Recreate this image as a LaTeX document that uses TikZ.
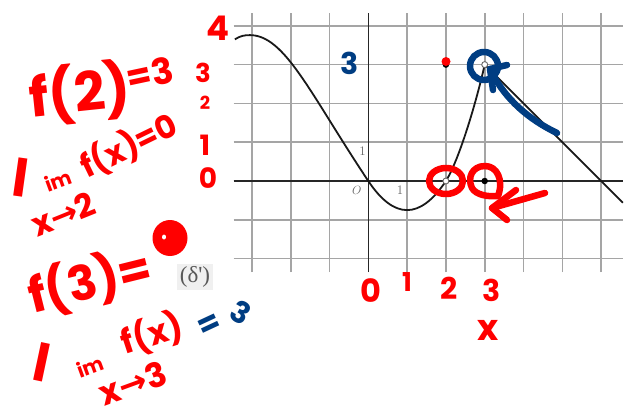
\documentclass[tikz,border=0pt]{standalone}
\usepackage{fontspec}
\newfontfamily\hand{Poppins}
\newfontfamily\handarrow{DejaVu Sans}
\newfontfamily\lserif{Liberation Serif}
\usetikzlibrary{arrows.meta}
\definecolor{hred}{RGB}{255,0,0}
\definecolor{hblue}{RGB}{0,61,130}
\definecolor{gridgray}{RGB}{165,165,165}
\tikzset{
  hw/.style={text=hred, inner sep=0pt},
  hwb/.style={text=hblue, inner sep=0pt},
  pen/.style={draw=hred, line width=6.5pt, line cap=round, line join=round},
  bpen/.style={draw=hblue, line width=6.5pt, line cap=round, line join=round},
  gridline/.style={draw=gridgray, line width=1.6pt},
  axisline/.style={draw=black!85, line width=1.5pt},
  curveline/.style={draw=black!90, line width=1.8pt},
  lbl/.style={text=black!60, inner sep=0pt, font=\fontsize{13}{13}\selectfont},
  opendot/.style={circle, draw=black!60, fill=white, line width=0.9pt, minimum size=6pt, inner sep=0pt},
  fdot/.style={circle, fill=black, minimum size=6.5pt, inner sep=0pt},
}
\newcommand{\hf}[1]{\fontsize{#1}{#1}\selectfont\hand\bfseries}
\begin{document}
\begin{tikzpicture}[x=1pt, y=-1pt]
\useasboundingbox (0,0) rectangle (626,416);
\fill[white] (0,0) rectangle (626,416);

% ---- graph ----
\begin{scope}[shift={(368.3,181)}, x=38.8pt, y=38.8pt]
  \foreach \i in {-3,...,6} \draw[gridline] (\i,-2.35) -- (\i,4.33);
  \foreach \j in {-2,...,4} \draw[gridline] (-3.47,\j) -- (6.56,\j);
  \draw[axisline] (-3.47,0) -- (6.56,0);
  \draw[axisline] (0,-2.35) -- (0,4.33);
  \draw[curveline] (-3.44,3.65) .. controls (-3.3,3.74) and (-3.2,3.76) .. (-3.05,3.76)
     .. controls (-2.15,3.76) and (-1.5,2.25) .. (0,0)
     .. controls (0.667,-1) and (1.333,-1) .. (2,0)
     .. controls (2.35,0.56) and (2.8,2.1) .. (3,3) -- (6.56,-0.56);
  \node[opendot] (o20) at (2,0) {};
  \node[opendot] (o33) at (3,3) {};
  \node[fdot] (f23) at (2,3) {};
  \node[fdot] (f30) at (3,0) {};
  \node[lbl] (ly1) at (-0.15,0.77) {1};
  \node[lbl] (lo) at (-0.3,-0.24) {$O$};
  \node[lbl] (lx1) at (0.82,-0.24) {1};
\end{scope}

\node[fill=black!6, inner sep=2.5pt, text=black!65, font=\lserif\fontsize{23}{23}\selectfont] (delta) at (195,277) {(δ')};

% ---- red dot above f(2) ----
\fill[hred] (446,61.5) circle (4.5);

% ---- handwritten annotations ----
\node[hw, font=\hf{54}, rotate=6] (f2) at (80,93) {f(2)};
\node[hw, font=\hf{36}, rotate=12] (eq3) at (150,74) {=3};

\node[hw, font=\hf{52}, rotate=-8] (l1) at (21,178) {l};
\node[hw, font=\hf{20}, rotate=20] (im1) at (58,180) {im};
\node[hw, font=\hf{32}, rotate=26] (fx0) at (129,146) {f(x)=0};
\node[hw, font=\hf{33}, rotate=22] (x2) at (63,214) {x{\handarrow\bfseries →}2};

\node[hw, font=\hf{48}, rotate=14] (f3) at (90,282) {f(3)=};
\fill[hred] (170,238) ellipse (17.5 and 18);
\fill[white] (164,237) ellipse (2 and 2.5);

\node[hw, font=\hf{52}, rotate=-12] (l2) at (42,362) {l};
\node[hw, font=\hf{20}, rotate=20] (im2) at (90,366) {im};
\node[hw, font=\hf{33}, rotate=18] (fx3) at (152,334) {f(x)};
\node[hw, font=\hf{34}, rotate=20] (x3) at (133,383) {x{\handarrow\bfseries →}3};
\node[hwb, font=\hf{32}, rotate=25] (beq) at (210,326) {=};
\node[hwb, font=\hf{30}, rotate=-30] (b3) at (241,312) {3};

% y numbers
\node[hw, font=\hf{34}] (n4) at (218,28) {4};
\node[hw, font=\hf{26}] (n3) at (203,73) {3};
\node[hw, font=\hf{18}] (n2) at (205,103) {2};
\node[hw, font=\hf{28}] (n1) at (205,145) {1};
\node[hw, font=\hf{28}] (n0) at (208,178) {0};
% x numbers
\node[hw, font=\hf{32}] (m0) at (371,291) {0};
\node[hw, font=\hf{26}] (m1) at (407,282) {1};
\node[hw, font=\hf{30}] (m2) at (449,288) {2};
\node[hw, font=\hf{30}] (m3) at (492,290) {3};
\node[hw, font=\hf{36}] (mx) at (488,330) {x};
% blue 3 inside grid
\node[hwb, font=\hf{30}] (b3g) at (350,63) {3};

% red circles and arrow
\draw[pen] (446,181) ellipse (17 and 13);
\draw[pen] (498,196) .. controls (504,180) and (497,166) .. (485,166)
  .. controls (472,166) and (467,178) .. (472,188) .. controls (476,195) and (488,197) .. (498,196);
\coordinate (rtail) at (545,193);
\coordinate (rtip) at (492,208);
\draw[pen] (rtail) -- (rtip);
\draw[pen] (516,190) -- (rtip) -- (507,220);

% blue circle and arrow
\draw[bpen] (484,66) circle (14);
\coordinate (btail) at (557,133);
\coordinate (btip) at (490,69);
\draw[bpen] (btail) .. controls (530,120) and (505,100) .. (btip);
\draw[bpen] (507,65) -- (btip) -- (493,90);
\end{tikzpicture}
\end{document}
